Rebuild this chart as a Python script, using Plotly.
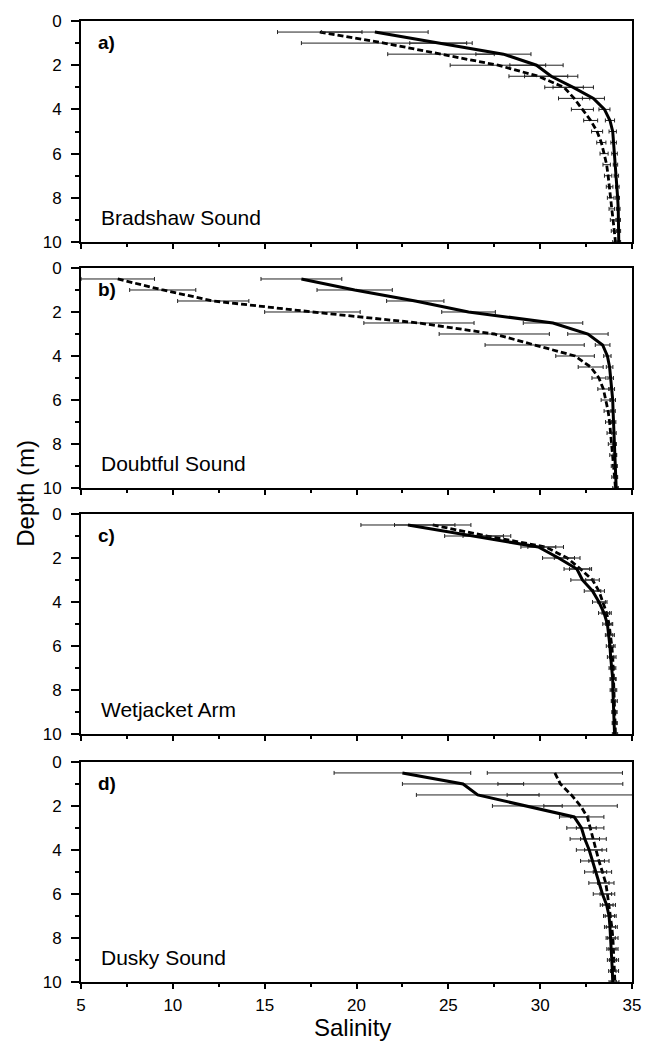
import plotly.graph_objects as go
from plotly.subplots import make_subplots

# depth of each sample (m)
depth = [0.5, 1.0, 1.5, 2.0, 2.5, 3.0, 3.5, 4.0, 4.5, 5.0,
         5.5, 6.0, 6.5, 7.0, 7.5, 8.0, 8.5, 9.0, 9.5, 10.0]

sites = ["Bradshaw Sound", "Doubtful Sound", "Wetjacket Arm", "Dusky Sound"]
letters = ["a)", "b)", "c)", "d)"]

# salinity, solid line series
a_solid = [21.0, 24.6, 28.0, 29.8, 30.6, 31.8, 32.9, 33.5, 33.8, 33.95, 34.0, 34.05, 34.1, 34.15, 34.2, 34.22, 34.25, 34.27, 34.28, 34.28]
a_solid_err = [2.9, 1.7, 1.5, 1.45, 1.45, 1.1, 0.6, 0.3, 0.25, 0.2, 0.15, 0.15, 0.12, 0.12, 0.1, 0.1, 0.1, 0.1, 0.1, 0.1]
b_solid = [17.0, 19.9, 23.2, 26.1, 30.7, 32.6, 33.4, 33.66, 33.78, 33.84, 33.9, 33.95, 33.97, 34.0, 34.02, 34.05, 34.07, 34.1, 34.12, 34.14]
b_solid_err = [2.2, 2.05, 1.56, 1.46, 1.62, 1.1, 0.4, 0.2, 0.18, 0.15, 0.15, 0.15, 0.12, 0.12, 0.12, 0.1, 0.1, 0.1, 0.1, 0.1]
c_solid = [22.8, 26.4, 29.9, 31.0, 32.0, 32.3, 32.85, 33.2, 33.48, 33.66, 33.75, 33.8, 33.84, 33.9, 33.95, 33.96, 33.99, 34.02, 34.04, 34.05]
c_solid_err = [2.56, 1.6, 0.95, 0.87, 0.7, 0.63, 0.45, 0.35, 0.3, 0.25, 0.2, 0.2, 0.18, 0.15, 0.15, 0.15, 0.12, 0.12, 0.12, 0.12]
d_solid = [22.5, 25.8, 26.6, 29.3, 31.85, 32.25, 32.43, 32.67, 32.85, 33.02, 33.2, 33.39, 33.62, 33.75, 33.8, 33.84, 33.88, 33.91, 33.93, 33.95]
d_solid_err = [3.72, 3.3, 3.34, 1.9, 0.8, 0.8, 0.8, 0.7, 0.65, 0.6, 0.55, 0.5, 0.35, 0.3, 0.3, 0.25, 0.25, 0.25, 0.2, 0.2]

# salinity, dashed line series
a_dash = [18.0, 21.5, 24.6, 27.7, 29.9, 31.3, 31.85, 32.3, 32.75, 33.1, 33.33, 33.48, 33.62, 33.7, 33.78, 33.84, 33.9, 33.97, 34.02, 34.1]
a_dash_err = [2.3, 4.5, 2.9, 2.6, 1.6, 1.05, 0.85, 0.6, 0.38, 0.3, 0.25, 0.22, 0.2, 0.2, 0.18, 0.18, 0.15, 0.15, 0.15, 0.15]
b_dash = [7.0, 9.45, 12.2, 17.6, 23.4, 27.5, 29.7, 31.9, 32.75, 33.2, 33.44, 33.57, 33.7, 33.78, 33.84, 33.91, 33.97, 34.02, 34.05, 34.1]
b_dash_err = [2.0, 1.8, 1.94, 2.6, 3.0, 3.0, 2.7, 1.05, 0.68, 0.38, 0.3, 0.25, 0.22, 0.22, 0.2, 0.2, 0.18, 0.15, 0.15, 0.15]
c_dash = [24.15, 27.1, 30.3, 31.47, 32.2, 32.85, 33.2, 33.39, 33.62, 33.75, 33.84, 33.9, 33.95, 33.97, 33.99, 34.02, 34.05, 34.07, 34.08, 34.1]
c_dash_err = [2.08, 1.3, 0.97, 0.7, 0.6, 0.37, 0.3, 0.25, 0.25, 0.2, 0.2, 0.18, 0.18, 0.15, 0.15, 0.15, 0.15, 0.12, 0.12, 0.12]
d_dash = [30.8, 31.1, 31.7, 32.2, 32.57, 32.72, 32.9, 33.02, 33.2, 33.39, 33.57, 33.66, 33.75, 33.84, 33.9, 33.96, 33.99, 34.02, 34.05, 34.07]
d_dash_err = [3.68, 3.4, 3.5, 2.0, 0.9, 0.75, 0.7, 0.6, 0.55, 0.5, 0.45, 0.4, 0.35, 0.3, 0.3, 0.28, 0.25, 0.25, 0.22, 0.22]

solid = [(a_solid, a_solid_err), (b_solid, b_solid_err), (c_solid, c_solid_err), (d_solid, d_solid_err)]
dashed = [(a_dash, a_dash_err), (b_dash, b_dash_err), (c_dash, c_dash_err), (d_dash, d_dash_err)]

FONT = "Liberation Sans, Arial, Helvetica, sans-serif"

fig = make_subplots(rows=4, cols=1, shared_xaxes=False)

for i in range(4):
    r = i + 1
    for (vals, err), dash, lw in [(dashed[i], "6px,3px", 2.8), (solid[i], "solid", 3)]:
        fig.add_trace(go.Scatter(
            x=vals, y=depth, mode="lines",
            line=dict(color="black", width=lw, dash=dash),
            error_x=dict(type="data", array=err, color="#222", thickness=1, width=2),
            showlegend=False), row=r, col=1)

# panel domains (paper fractions), top to bottom
domains = [[0.770, 1.0], [0.514, 0.743], [0.258, 0.487], [0.0, 0.229]]

for i in range(4):
    r = i + 1
    fig.update_yaxes(
        domain=domains[i], range=[10, 0], tickvals=[0, 2, 4, 6, 8, 10],
        showline=True, linecolor="black", linewidth=2, mirror=True,
        ticks="outside", ticklen=8, tickwidth=1.5, tickcolor="black",
        ticklabelstandoff=6,
        minor=dict(tickvals=[1, 3, 5, 7, 9], ticks="outside", ticklen=4, tickwidth=1.5, tickcolor="black"),
        showgrid=False, zeroline=False,
        tickfont=dict(family=FONT, size=17, color="black"),
        row=r, col=1)
    fig.update_xaxes(
        range=[5, 35], tickvals=[5, 10, 15, 20, 25, 30, 35],
        showticklabels=(r == 4),
        showline=True, linecolor="black", linewidth=2, mirror=True,
        ticks="outside", ticklen=5, tickwidth=1.5, tickcolor="black",
        ticklabelstandoff=2,
        minor=dict(tickvals=[7.5, 12.5, 17.5, 22.5, 27.5, 32.5], ticks="outside", ticklen=3, tickwidth=1.5, tickcolor="black"),
        showgrid=False, zeroline=False,
        tickfont=dict(family=FONT, size=17, color="black"),
        row=r, col=1)

    sfx = "" if r == 1 else str(r)
    fig.add_annotation(text="<b>" + letters[i] + "</b>", xref="x" + sfx + " domain", yref="y" + sfx + " domain",
                       x=0.027, y=0.903, xanchor="left", yanchor="middle", showarrow=False,
                       font=dict(family=FONT, size=19, color="black"))
    fig.add_annotation(text=sites[i], xref="x" + sfx + " domain", yref="y" + sfx + " domain",
                       x=0.033, y=0.11, xanchor="left", yanchor="middle", showarrow=False,
                       font=dict(family=FONT, size=21, color="black"))

fig.add_annotation(text="Depth (m)", xref="paper", yref="paper", x=-0.1, y=0.509,
                   textangle=-90, xanchor="center", yanchor="middle", showarrow=False,
                   font=dict(family=FONT, size=24, color="black"))
fig.add_annotation(text="Salinity", xref="paper", yref="paper", x=0.493, y=-0.031,
                   xanchor="center", yanchor="top", showarrow=False,
                   font=dict(family=FONT, size=24, color="black"))

fig.update_layout(
    width=653, height=1041,
    margin=dict(l=81, r=18, t=21, b=59),
    plot_bgcolor="white", paper_bgcolor="white",
    font=dict(family=FONT, color="black"),
)

# the page's default body margin would push the figure 8px right and down
fig.write_html("out.html", config={"displayModeBar": False},
               post_script="document.body.style.margin='0';document.body.style.overflow='hidden';")
